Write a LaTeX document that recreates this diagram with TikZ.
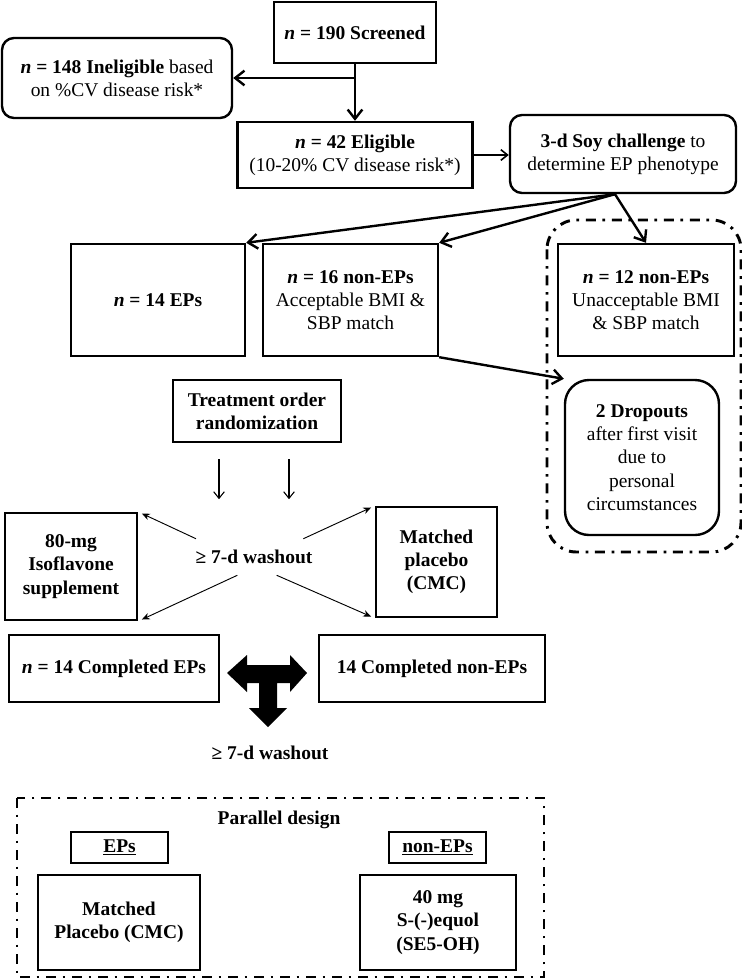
\documentclass[tikz,border=0pt]{standalone}
\usepackage{fontspec}
\setmainfont{Liberation Serif}
\usetikzlibrary{arrows.meta}

\begin{document}
\begin{tikzpicture}[x=0.75pt,y=-0.75pt]
\tikzstyle{box}=[draw, rectangle, line width=1.8pt, align=center, inner sep=0pt,
  font=\fontsize{14.6}{17.4}\selectfont]
\tikzstyle{rbox}=[box, rounded corners=9pt]
\tikzstyle{tx}=[draw=none, fill=none, align=center, font=\fontsize{14.6}{17.4}\selectfont\bfseries]
\tikzstyle{wh}=[minimum width=#1*0.75pt]
\tikzstyle{ht}=[minimum height=#1*0.75pt]
\tikzstyle{big}=[line width=1.8pt, -{Straight Barb[length=7pt,width=11pt,line width=1.8pt]}]
\tikzstyle{thin}=[line width=0.8pt, -{Straight Barb[length=5pt,width=8pt]}]
\tikzstyle{sm}=[line width=0.7pt, -{Stealth[length=6pt,width=5pt]}, shorten >=3pt]
\tikzstyle{dd}=[line width=2.2pt, dash pattern=on 7.5pt off 5pt on 2pt off 5pt]

\useasboundingbox (0,0) rectangle (742,979);

\node[box, wh=162, ht=61] (scr) at (355,32.5) {\textbf{\textit{n} = 190 Screened}};
\node[rbox, wh=230, ht=80] (inel) at (117,78) {\textbf{\textit{n} = 148 Ineligible} based\\on \%CV disease risk*};
\node[box, wh=235, ht=66] (elig) at (355,155) {\textbf{\textit{n} = 42 Eligible}\\(10-20\% CV disease risk*)};
\node[rbox, wh=226, ht=78] (soy) at (623,154) {\textbf{3-d Soy challenge} to\\determine EP phenotype};

\node[box, wh=174, ht=112] (ep) at (158,300) {\textbf{\textit{n} = 14 EPs}};
\node[box, wh=175, ht=112] (ne16) at (350.5,300) {\textbf{\textit{n} = 16 non-EPs}\\Acceptable BMI \&\\SBP match};
\node[box, wh=176, ht=112] (ne12) at (646,300) {\textbf{\textit{n} = 12 non-EPs}\\Unacceptable BMI\\\& SBP match};

\node[box, wh=168, ht=62, font=\fontsize{14.6}{17.4}\selectfont\bfseries] (trt) at (257,411) {Treatment order\\randomization};
\node[rbox, rounded corners=18pt, wh=154, ht=155] (drop) at (642,457.5) {\textbf{2 Dropouts}\\after first visit\\due to\\personal\\circumstances};
\draw[dd, rounded corners=22pt] (547,220) rectangle (741,552);

\node[box, wh=132, ht=107, font=\fontsize{14.6}{17.4}\selectfont\bfseries] (iso) at (71,566.5) {80-mg\\Isoflavone\\supplement};
\node[box, wh=121, ht=110, font=\fontsize{14.6}{17.4}\selectfont\bfseries] (plc) at (436.5,562) {Matched\\placebo\\(CMC)};
\node[tx, inner xsep=0pt, minimum height=36*0.75pt] (wash) at (254,557) {≥ 7-d washout};

\node[box, wh=210, ht=67] (cep) at (114,668.5) {\textbf{\textit{n} = 14 Completed EPs}};
\node[box, wh=226, ht=67] (cne) at (432,668.5) {\textbf{14 Completed non-EPs}};
\node[tx] (wash2) at (270,753) {≥ 7-d washout};

\draw[dd] (17,798) rectangle (544,977);
\node[tx] (par) at (279,820) {Parallel design};
\node[box, wh=97, ht=31, font=\fontsize{14.6}{17.4}\selectfont\bfseries] (eps) at (119.5,847.5) {\underline{EPs}};
\node[box, wh=97, ht=31, font=\fontsize{14.6}{17.4}\selectfont\bfseries] (neps) at (437.5,847.5) {\underline{non-EPs}};
\node[box, wh=162, ht=95, font=\fontsize{14.6}{17.4}\selectfont\bfseries] (mpl) at (119,922.5) {Matched\\Placebo (CMC)};
\node[box, wh=156, ht=95, font=\fontsize{14.6}{17.4}\selectfont\bfseries] (sq) at (438,922.5) {40 mg\\S-(-)equol\\(SE5-OH)};

% screening flow
\draw[big] (scr) -- (elig);
\draw[big] (scr.south |- inel.east) -- (inel.east);
\draw[thin, line width=1.2pt] (elig.east) -- (soy.west |- elig.east);
\draw[big] ([xshift=-6pt]soy.south) -- (ep.north east);
\draw[big] ([xshift=-6pt]soy.south) -- (ne16.north east);
\draw[big] ([xshift=-6pt]soy.south) -- (ne12.north);
\draw[big] (ne16.south east) -- (drop.north west);

% randomization
\coordinate (r1a) at ([xshift=-28.5pt, yshift=-12pt]trt.south);
\coordinate (r1b) at ([xshift=-28.5pt, yshift=-42pt]trt.south);
\coordinate (r2a) at ([xshift=24pt, yshift=-12pt]trt.south);
\coordinate (r2b) at ([xshift=24pt, yshift=-42pt]trt.south);
\draw[thin] (r1a) -- (r1b);
\draw[thin] (r2a) -- (r2b);

\draw[sm] ([xshift=-43.5pt]wash.north) -- (iso.north east);
\draw[sm] ([xshift=-12.5pt]wash.south) -- (iso.south east);
\draw[sm] ([xshift=37pt]wash.north) -- (plc.north west);
\draw[sm] ([xshift=17pt]wash.south) -- (plc.south west);

% block arrow between completers
\fill (227,673) -- (247,655) -- (247,665) -- (290,665) -- (290,655) -- (307,673)
  -- (290,692) -- (290,683) -- (277,683) -- (277,708) -- (287,708) -- (268,727)
  -- (249,708) -- (259,708) -- (259,683) -- (247,683) -- (247,692) -- cycle;
\end{tikzpicture}
\end{document}
